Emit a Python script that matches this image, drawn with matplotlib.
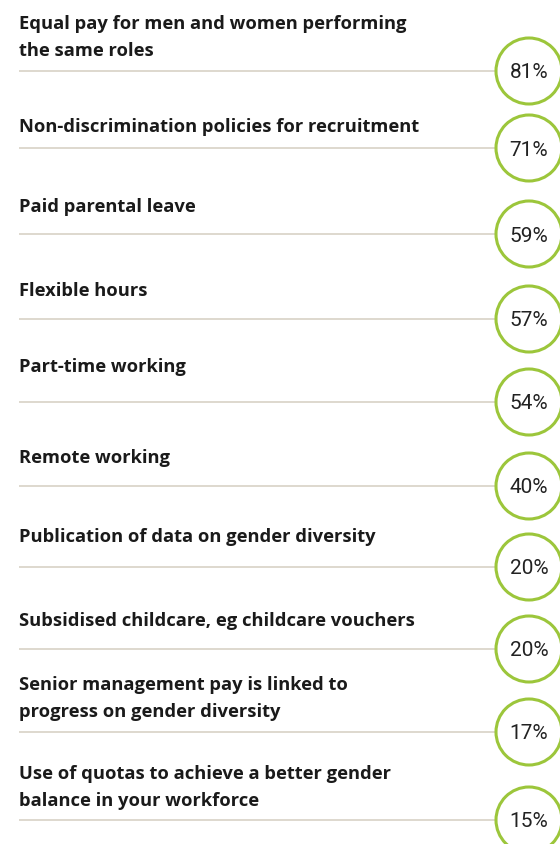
import matplotlib.pyplot as plt
from matplotlib.patches import Circle

# --- DATEN ---
labels = [
    "Equal pay for men and women performing\nthe same roles",
    "Non-discrimination policies for recruitment",
    "Paid parental leave",
    "Flexible hours",
    "Part-time working",
    "Remote working",
    "Publication of data on gender diversity",
    "Subsidised childcare, eg childcare vouchers",
    "Senior management pay is linked to\nprogress on gender diversity",
    "Use of quotas to achieve a better gender\nbalance in your workforce",
]
values = [81, 71, 59, 57, 54, 40, 20, 20, 17, 15]

# --- LAYOUT (Pixel) ---
W, H = 560, 845
LINE_Y = [72, 149, 235, 320, 403, 487, 568, 650, 733, 821]
BASE_Y = [29, 132, 212, 296, 372, 463, 542, 626, 690, 779]
LINE_GAP = 27
LINE_X0 = 19
CIRCLE_X = 529
CIRCLE_R = 33

C_LINE = "#d8d2c6"
C_GREEN = "#9cc63b"
C_TEXT = "#1a1a1a"
C_PCT = "#222222"

fig = plt.figure(figsize=(W / 100, H / 100), dpi=100)
ax = fig.add_axes([0, 0, 1, 1])
ax.set_xlim(0, W)
ax.set_ylim(H, 0)
ax.set_aspect("equal")
ax.axis("off")

for lab, val, ly, by in zip(labels, values, LINE_Y, BASE_Y):
    ax.plot([LINE_X0, CIRCLE_X - CIRCLE_R], [ly, ly], color=C_LINE, lw=1.2,
            solid_capstyle="butt", zorder=1)
    ax.add_patch(Circle((CIRCLE_X, ly), CIRCLE_R, facecolor="white",
                        edgecolor=C_GREEN, lw=2.2, zorder=2))
    ax.text(CIRCLE_X, ly + 1, f"{val}%", ha="center", va="center",
            fontsize=15, color=C_PCT, family="Roboto", fontweight="normal",
            zorder=3)
    for k, zeile in enumerate(lab.split("\n")):
        ax.text(LINE_X0, by + k * LINE_GAP, zeile, ha="left", va="baseline",
                fontsize=13.2, fontweight="bold", color=C_TEXT,
                family="Open Sans")

fig.savefig("out.png", dpi=100)
